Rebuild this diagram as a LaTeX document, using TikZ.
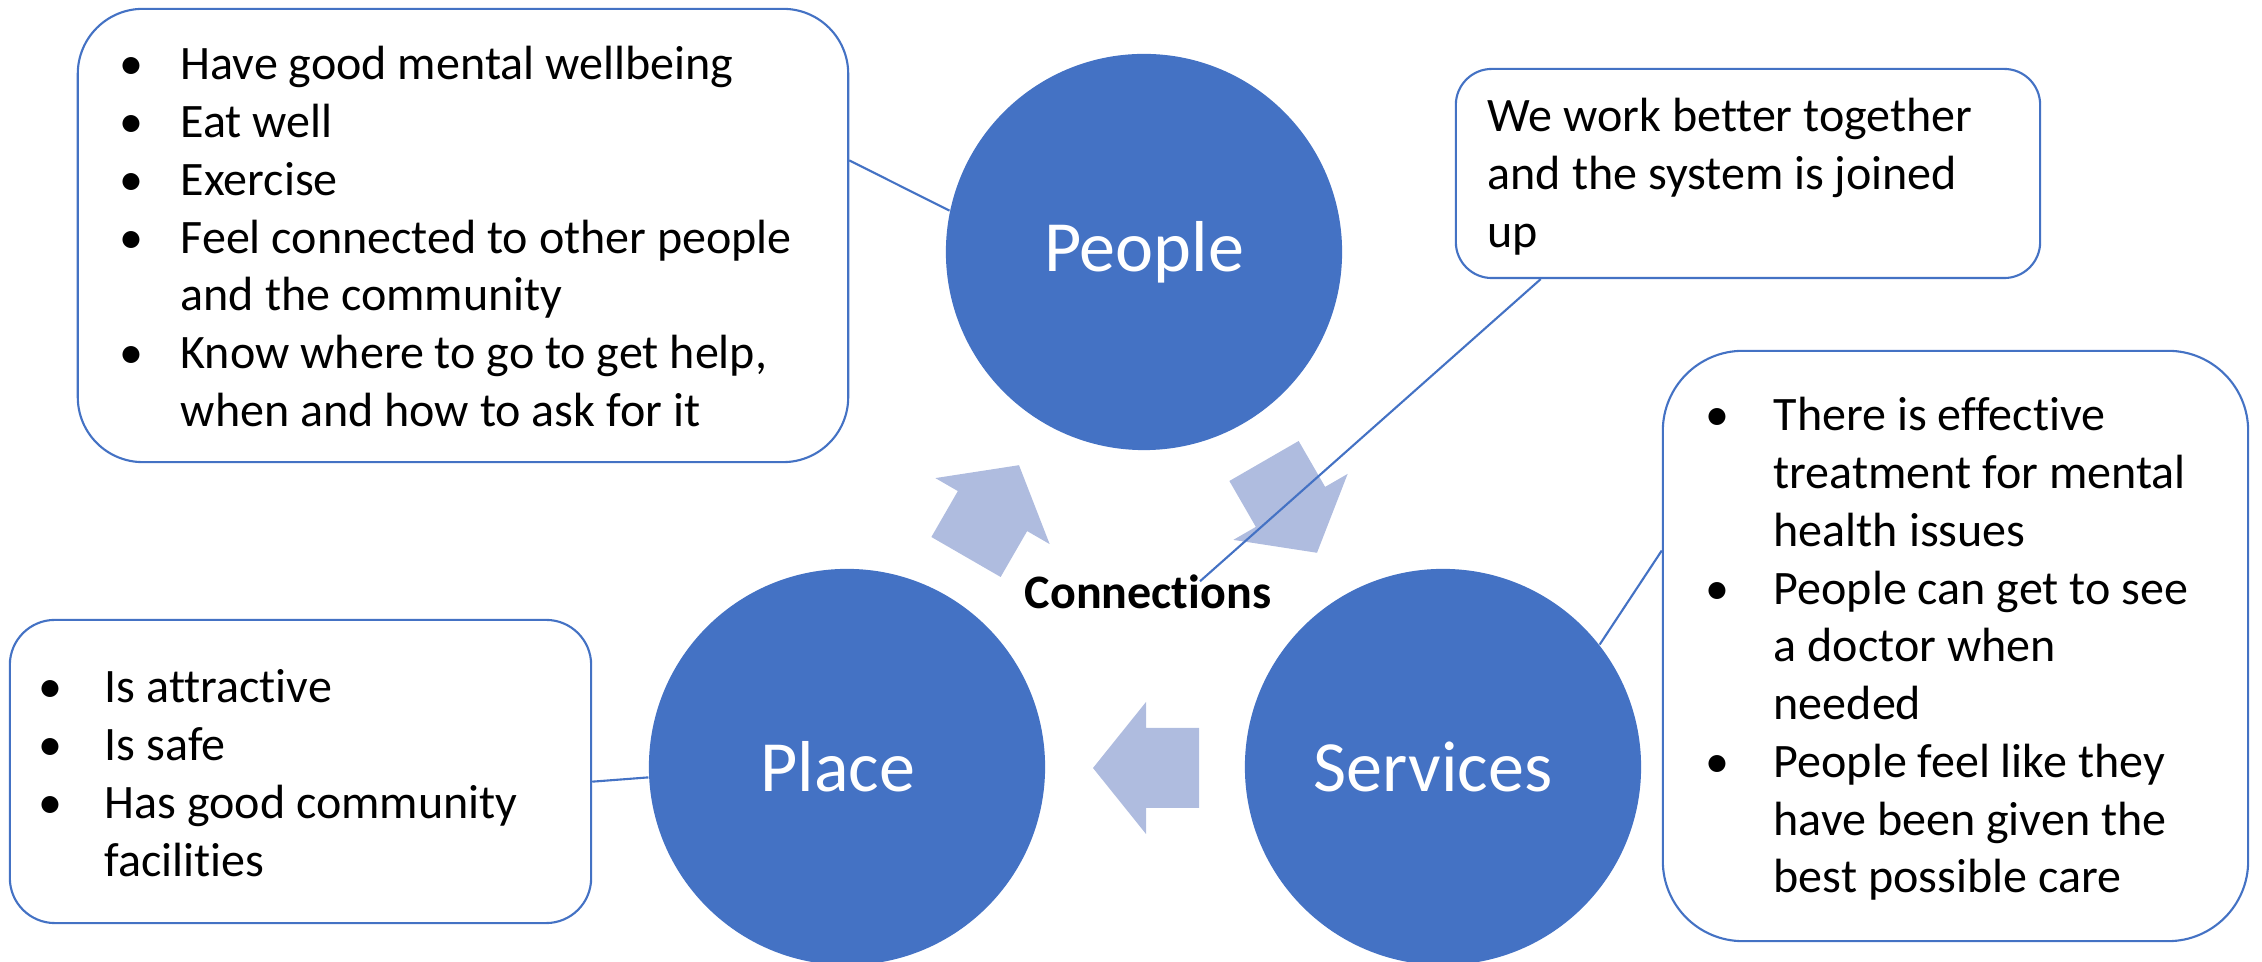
\documentclass[tikz,border=0pt]{standalone}
\usepackage{fontspec}
\setmainfont{Carlito}[Ligatures=NoCommon]
\usetikzlibrary{calc}
\definecolor{accent}{HTML}{4472C4}
\definecolor{arrowfill}{HTML}{AFBCDF}
\newcommand{\boxfont}{\fontsize{13.66pt}{16.42pt}\selectfont}
\newcommand{\bul}{\textbullet}

\begin{document}
\begin{tikzpicture}[x=0.01cm, y=-0.01cm,
  infobox/.style={draw=accent, line width=0.6pt, fill=white, rounded corners=#1, inner sep=0pt},
  hub/.style={circle, fill=accent, inner sep=0pt, minimum size=3.96cm, text=white,
              font=\fontsize{20.5pt}{24pt}\selectfont},
  link/.style={draw=accent, line width=0.6pt},
  flow/.style={fill=arrowfill},
  itemlist/.style={anchor=base west, inner sep=0pt, font=\boxfont}]

\clip (0,0) rectangle (2262,962);

% cycle arrows between the three hubs
\fill[flow, shift={(966,557)}, rotate=60]
  (0,-40) -- (53,-40) -- (53,-66) -- (106,0) -- (53,66) -- (53,40) -- (0,40) -- cycle;
\fill[flow, shift={(1264,461)}, rotate=-60]
  (0,-40) -- (53,-40) -- (53,-66) -- (106,0) -- (53,66) -- (53,40) -- (0,40) -- cycle;
\fill[flow, shift={(1199,768)}, rotate=180]
  (0,-40) -- (53,-40) -- (53,-66) -- (106,0) -- (53,66) -- (53,40) -- (0,40) -- cycle;

% hubs
\node[hub] (people)   at (1144,252) {People};
\node[hub] (place)    at (847,767)  {Place\hspace*{0.18cm}};
\node[hub] (services) at (1443,767) {Services\hspace*{0.2cm}};

\node[font=\boxfont\bfseries, inner sep=0pt] (conn) at (1148,592) {Connections};

% information boxes
\node[infobox=0.65cm, minimum width=7.70cm, minimum height=4.53cm] (pbox) at (463,235.5) {};
\node[itemlist] (ptext) at (119,80) {\begin{tabular}[t]{@{}p{0.61cm}@{}l@{}}
  \bul & Have good mental wellbeing\\
  \bul & Eat well\\
  \bul & Exercise\\
  \bul & Feel connected to other people\\
       & and the community\\
  \bul & Know where to go to get help,\\
       & when and how to ask for it
\end{tabular}};

\node[infobox=0.36cm, minimum width=5.84cm, minimum height=2.09cm] (cbox) at (1748,173.5) {};
\node[itemlist] (ctext) at (1487,132) {\begin{tabular}[t]{@{}l@{}}
  We work better together\\
  and the system is joined\\
  up
\end{tabular}};

\node[infobox=0.8cm, minimum width=5.85cm, minimum height=5.90cm] (sbox) at (1955.5,646) {};
\node[itemlist] (stext) at (1705,431) {\begin{tabular}[t]{@{}p{0.68cm}@{}l@{}}
  \bul & There is effective\\
       & treatment for mental\\
       & health issues\\
  \bul & People can get to see\\
       & a doctor when\\
       & needed\\
  \bul & People feel like they\\
       & have been given the\\
       & best possible care
\end{tabular}};

\node[infobox=0.45cm, minimum width=5.81cm, minimum height=3.03cm] (plbox) at (300.5,771.5) {};
\node[itemlist] (pltext) at (38,703) {\begin{tabular}[t]{@{}p{0.66cm}@{}l@{}}
  \bul & Is attractive\\
  \bul & Is safe\\
  \bul & Has good community\\
       & facilities
\end{tabular}};

% connectors
\draw[link] (pbox.11.2) -- (people.168.7);
\draw[link] (cbox.207.9) -- ([xshift=0.52cm, yshift=-0.07cm]conn.north);
\draw[link] (sbox.162.7) -- (services.38.4);
\draw[link] (plbox.-2.9) -- (place.183.6);

\end{tikzpicture}
\end{document}
